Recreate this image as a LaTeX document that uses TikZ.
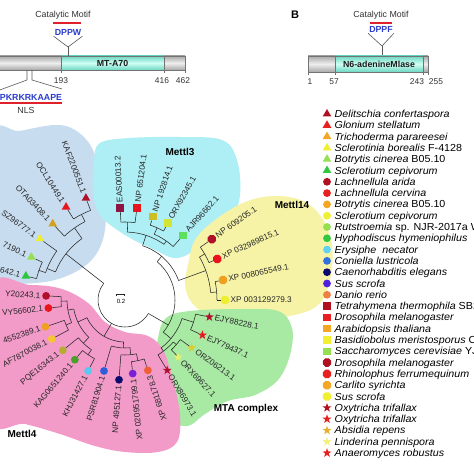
\documentclass[tikz,border=0pt]{standalone}
\usepackage{fontspec}
\setmainfont{Liberation Sans}
\newfontfamily\legfont[FakeStretch=1.05]{Liberation Sans}
\usetikzlibrary{shapes.geometric,calc}
% marker colours (tree)
\definecolor{cDR}{HTML}{B0102A}
\definecolor{cR}{HTML}{E8141E}
\definecolor{cO}{HTML}{F0A020}
\definecolor{cOc}{HTML}{D4A020}
\definecolor{cY}{HTML}{EEEE30}
\definecolor{cYO}{HTML}{F5C535}
\definecolor{cLG}{HTML}{96E050}
\definecolor{cOl}{HTML}{B4AE30}
\definecolor{cG}{HTML}{2EC43C}
\definecolor{cKG}{HTML}{4AA02A}
\definecolor{cLB}{HTML}{5CC8F2}
\definecolor{cB}{HTML}{2F5CD8}
\definecolor{cN}{HTML}{0C0C6E}
\definecolor{cV}{HTML}{7A20D8}
\definecolor{cDO}{HTML}{F06038}
\definecolor{cMar}{HTML}{8E1444}
\definecolor{cSqO}{HTML}{CDBE24}
\definecolor{cSqY}{HTML}{D2E436}
\definecolor{cSqG}{HTML}{5EE05E}
\definecolor{cGold}{HTML}{D8D030}
\definecolor{cLY}{HTML}{E8F070}
% legend colours
\definecolor{lDR}{HTML}{B01020}
\definecolor{lR}{HTML}{E82020}
\definecolor{lO}{HTML}{F5A623}
\definecolor{lY}{HTML}{F0F030}
\definecolor{lLG}{HTML}{94E050}
\definecolor{lG}{HTML}{30C840}
\definecolor{lLB}{HTML}{60D0F5}
\definecolor{lB}{HTML}{3070E0}
\definecolor{lN}{HTML}{0A0A70}
\definecolor{lV}{HTML}{5020E0}
\definecolor{lDO}{HTML}{F08040}
\definecolor{lGold}{HTML}{E8B030}
\definecolor{lLY}{HTML}{F5F080}
% blobs
\definecolor{bBlue}{HTML}{C7DCEF}
\definecolor{bCyan}{HTML}{AEEEF5}
\definecolor{bYel}{HTML}{F6F3A6}
\definecolor{bGrn}{HTML}{A8E9A4}
\definecolor{bPink}{HTML}{F29AC8}
% panels
\definecolor{barout}{HTML}{A8A8A8}
\definecolor{barin}{HTML}{EEEEEE}
\definecolor{domout}{HTML}{6CD6C2}
\definecolor{domin}{HTML}{CFFFF4}
\definecolor{motifblue}{HTML}{2A3CCC}
\definecolor{motifred}{HTML}{E0202A}

\tikzset{
  br/.style={draw=black!85, line width=0.55pt},
  tri/.style={regular polygon, regular polygon sides=3, minimum size=10pt, inner sep=0pt, fill=#1, draw=none},
  sq/.style={rectangle, minimum size=7.5pt, inner sep=0pt, fill=#1},
  circ/.style={circle, minimum size=7.8pt, inner sep=0pt, fill=#1},
  oct/.style={regular polygon, regular polygon sides=8, minimum size=9pt, inner sep=0pt, fill=#1},
  str/.style={star, star points=5, star point ratio=2.5, minimum size=9.5pt, inner sep=0pt, fill=#1},
  lbl/.style={font=\fontsize{8.2}{9}\selectfont, inner sep=0pt, text=black!85},
  grp/.style={font=\fontsize{10}{12}\selectfont\bfseries, inner sep=0pt},
  ptxt/.style={font=\fontsize{8.8}{10}\selectfont, inner sep=0.5pt, text=black!80},
  dtxt/.style={font=\fontsize{8.8}{10}\selectfont\bfseries, inner sep=0pt, text=black!90},
  motif/.style={font=\fontsize{8.8}{10}\selectfont\bfseries, text=motifblue, inner sep=1pt},
  num/.style={font=\fontsize{8.4}{10}\selectfont, inner sep=0pt, text=black!80},
  conn/.style={draw=black!65, line width=0.6pt},
  redbar/.style={draw=motifred, line width=1.8pt},
  legtxt/.style={font=\legfont\fontsize{10.2}{11}\selectfont\itshape, inner sep=0pt},
  barfill/.style={top color=barout, bottom color=barout, middle color=barin},
  domfill/.style={top color=domout, bottom color=domout, middle color=domin},
  outl/.style={draw=black!55, line width=0.5pt},
}

\newcommand{\lfR}[6]{%
  \node[#4=#5] (#1) at ($(C)+(#2:#3)$) {};
  \pgfmathsetmacro{\lfrad}{#3+5.5}%
  \node[lbl, anchor=west, rotate=#2] (#1t) at ($(C)+(#2:\lfrad)$) {#6};%
}
\newcommand{\lfL}[6]{%
  \node[#4=#5] (#1) at ($(C)+(#2:#3)$) {};
  \pgfmathsetmacro{\lfrad}{#3+5.5}%
  \pgfmathsetmacro{\lfrot}{#2+180}%
  \node[lbl, anchor=east, rotate=\lfrot] (#1t) at ($(C)+(#2:\lfrad)$) {#6};%
}
\newcommand{\radl}[3]{\draw[br] ($(C)+(#1:#2)$) -- ($(C)+(#1:#3)$);}
\newcommand{\arcl}[3]{\draw[br] ($(C)+(#1:#3)$) arc[start angle=#1, end angle=#2, radius=#3];}
\newcommand{\tol}[3]{\draw[br] ($(C)+(#1:#2)$) -- (#3);}
\newcommand{\legi}[4]{%
  \pgfmathsetmacro{\legy}{114+11.3*(#1-1)}%
  \pgfmathsetmacro{\legb}{114+11.3*(#1-1)+3.6}%
  \node[#2=#3] (lm#1) at (327,\legy) {};
  \node[legtxt, anchor=base west] (lt#1) at (334.5,\legb) {#4};%
}

\begin{document}
\begin{tikzpicture}[x=1pt,y=1pt]
\useasboundingbox (0,0) rectangle (474,474);
\fill[white] (0,0) rectangle (474,474);

\begin{scope}[shift={(0,474)}, yscale=-1]
% ---------- clade backgrounds ----------
\fill[bBlue] plot[smooth cycle, tension=0.6] coordinates {(-10,138) (20,131) (55,125) (75,130) (92,148) (101,180) (106,215) (101,245) (85,266) (55,280) (20,284) (-10,284)};
\fill[bCyan] plot[smooth cycle, tension=0.6] coordinates {(94,160) (100,143) (130,138) (180,137) (222,140) (237,160) (240,195) (230,222) (205,243) (178,258) (155,250) (125,235) (100,215) (93,190)};
\fill[bYel] plot[smooth cycle, tension=0.6] coordinates {(188,265) (195,240) (215,220) (245,202) (275,196) (303,201) (322,218) (332,245) (330,280) (318,305) (290,316) (250,319) (212,316) (192,303) (185,285)};
\fill[bGrn] plot[smooth cycle, tension=0.6] coordinates {(158,338) (166,318) (190,311) (240,309) (278,311) (292,328) (290,355) (278,380) (255,395) (228,401) (205,414) (188,426) (170,420) (158,400) (155,370)};
\fill[bPink] plot[smooth cycle, tension=0.6] coordinates {(-10,288) (30,285) (62,289) (88,303) (105,322) (125,332) (148,336) (163,350) (173,380) (180,415) (177,442) (158,452) (125,452) (95,446) (60,434) (25,424) (-10,418)};

% ---------- panel A ----------
\shade[barfill] (-10,56) rectangle (185,70);
\shade[domfill] (61,56) rectangle (164,70);
\draw[outl] (-10,56) rectangle (185,70);
\draw[outl] (61,56) -- (61,73);
\draw[outl] (164,56) -- (164,73);
\draw[outl] (185,70) -- (185,73);
\node[dtxt] (mta70) at (112.5,63.5) {MT-A70};
\node[num] (nA1) at (61,81) {193};
\node[num] (nA2) at (162,81) {416};
\node[num] (nA3) at (183,81) {462};
\node[ptxt] (catA) at (63,15) {Catalytic Motif};
\draw[redbar] (53,23) -- (81,23);
\node[motif] (dppw) at (68,32) {DPPW};
\coordinate (vA) at (68,47);
\coordinate (bA) at (68,56);
\draw[conn] (dppw.south west) -- (vA) -- (dppw.south east);
\draw[conn] (vA) -- (bA);
\coordinate (nl1) at (27,70);
\coordinate (nl2) at (32,70);
\coordinate (nl1b) at (27,80);
\coordinate (nl2b) at (32,80);
\coordinate (nlL) at (-3,91);
\coordinate (nlR) at (62,89);
\draw[conn] (nl1) -- (nl1b) -- (nlL);
\draw[conn] (nl2) -- (nl2b) -- (nlR);
\node[motif] (pk) at (31,97) {PKRKRKAAPE};
\draw[redbar] (-2,103) -- (62,103);
\node[ptxt] (nls) at (26,110) {NLS};

% ---------- panel B ----------
\node[font=\fontsize{11}{12}\selectfont\bfseries, inner sep=0pt] (labB) at (295,15) {B};
\node[ptxt] (catB) at (381,15) {Catalytic Motif};
\draw[redbar] (370,23) -- (392,23);
\node[motif] (dppf) at (381,29) {DPPF};
\coordinate (vB) at (382,46);
\coordinate (bB) at (382,56);
\draw[conn] (dppf.south west) -- (vB) -- (dppf.south east);
\draw[conn] (vB) -- (bB);
\shade[barfill] (308,56) rectangle (428,72);
\shade[domfill] (335,56) rectangle (423,72);
\draw[outl] (308,56) rectangle (428,72);
\draw[outl] (335,56) -- (335,75);
\draw[outl] (423,56) -- (423,75);
\draw[outl] (308,72) -- (308,75);
\draw[outl] (428,72) -- (428,75);
\node[dtxt] (n6) at (379,64.5) {N6-adenineMlase};
\node[num] (nB1) at (310,82) {1};
\node[num] (nB2) at (334,82) {57};
\node[num] (nB3) at (417,82) {243};
\node[num] (nB4) at (436,82) {255};

% ---------- legend ----------
\legi{1}{tri}{lDR}{Delitschia confertaspora}
\legi{2}{tri}{lR}{Glonium stellatum}
\legi{3}{tri}{lO}{Trichoderma parareesei}
\legi{4}{tri}{lY}{Sclerotinia borealis {\upshape F-4128}}
\legi{5}{tri}{lLG}{Botrytis cinerea {\upshape B05.10}}
\legi{6}{tri}{lG}{Sclerotium cepivorum}
\legi{7}{circ}{lDR}{Lachnellula arida}
\legi{8}{circ}{lR}{Lachnellula cervina}
\legi{9}{circ}{lO}{Botrytis cinerea {\upshape B05.10}}
\legi{10}{circ}{lY}{Sclerotium cepivorum}
\legi{11}{circ}{lLG}{Rutstroemia {\upshape sp. NJR-2017a W}}
\legi{12}{circ}{lG}{Hyphodiscus hymeniophilus}
\legi{13}{circ}{lLB}{Erysiphe~ necator}
\legi{14}{circ}{lB}{Coniella lustricola}
\legi{15}{circ}{lN}{Caenorhabditis elegans}
\legi{16}{circ}{lV}{Sus scrofa}
\legi{17}{circ}{lDO}{Danio rerio}
\legi{18}{sq}{lDR}{Tetrahymena thermophila {\upshape SB2}}
\legi{19}{sq}{lR}{Drosophila melanogaster}
\legi{20}{sq}{lO}{Arabidopsis thaliana}
\legi{21}{sq}{lY}{Basidiobolus meristosporus {\upshape C}}
\legi{22}{sq}{lLG}{Saccharomyces cerevisiae {\upshape YJ}}
\legi{23}{oct}{lDR}{Drosophila melanogaster}
\legi{24}{oct}{lR}{Rhinolophus ferrumequinum}
\legi{25}{oct}{lO}{Carlito syrichta}
\legi{26}{oct}{lY}{Sus scrofa}
\legi{27}{str}{lDR}{Oxytricha trifallax}
\legi{28}{str}{lR}{Oxytricha trifallax}
\legi{29}{str}{lGold}{Absidia repens}
\legi{30}{str}{lLY}{Linderina pennispora}
\legi{31}{str}{lR}{Anaeromyces robustus}

% ---------- group labels ----------
\node[grp] (gM3) at (180,152) {Mettl3};
\node[grp] (gM14) at (292,205) {Mettl14};
\node[grp] (gMTA) at (246,409) {MTA complex};
\node[grp] (gM4) at (22,434) {Mettl4};

% ---------- scale bar ----------
\coordinate (sb1) at (116,294);
\coordinate (sb2) at (124,294);
\draw[br, line width=0.45pt] (116,296.5) -- (sb1) -- (sb2) -- (124,296.5);
\node[font=\fontsize{6}{7}\selectfont, inner sep=0pt] (sbl) at (121,301) {0.2};
\end{scope}

% ---------- tree ----------
\coordinate (C) at (125,174);
% clade 1 (triangles)
\lfL{kaf}{111}{109}{tri}{cDR}{KAF2200551.1}
\lfL{ocl}{122.4}{110}{tri}{cR}{OCL10449.1}
\lfL{ota}{133.5}{105}{tri}{cOc}{OTA03408.1}
\lfL{psz}{144.3}{105}{tri}{cY}{SZ96777.1}
\lfL{s7190}{155.4}{103}{tri}{cLG}{7190.1}
\lfL{s642}{166.4}{102}{tri}{cG}{642.1}
% Mettl3 (squares)
\lfR{eas}{93}{92}{sq}{cMar}{EAS00013.2}
\lfR{np651}{82.6}{93}{sq}{cR}{NP 651204.1}
\lfR{np192}{71.4}{88}{sq}{cSqO}{NP 192814.1}
\lfR{orx92}{60.8}{88}{sq}{cSqY}{ORX92345.1}
\lfR{ajr}{48}{87}{sq}{cSqG}{AJR96662.1}
% Mettl14 (octagons)
\lfR{np609}{35}{106}{oct}{cDR}{NP 609205.1}
\lfR{xp0329}{24}{101}{oct}{cR}{XP 032989815.1}
\lfR{xp0080}{11.5}{100}{oct}{cO}{XP 008065549.1}
\lfR{xp0031}{0}{100}{oct}{cY}{XP 003129279.3}
% MTA complex (stars)
\lfR{ejy88}{-11.4}{86}{str}{cDR}{EJY88228.1}
\lfR{ejy79}{-24.4}{85}{str}{cR}{EJY79437.1}
\lfR{orz}{-35.6}{82}{str}{cGold}{ORZ06213.1}
\lfR{orx69}{-47}{78}{str}{cLY}{ORX69627.1}
\lfR{orx86}{-59}{82}{str}{cDR}{ORX86973.1}
% Mettl4 (circles)
\lfL{y202}{177}{79}{circ}{cDR}{Y20243.1}
\lfL{vy566}{186}{77}{circ}{cR}{VY56602.1}
\lfL{a455}{198.6}{84}{circ}{cO}{4552389.1}
\lfL{af787}{208}{83}{circ}{cYO}{AF7870038.1}
\lfL{pqe}{219}{80}{circ}{cOl}{PQE16343.1}
\lfL{kag}{230}{78}{circ}{cKG}{KAG0651240.1}
\lfL{khj}{242.5}{80}{circ}{cLB}{KHJ31427.1}
\lfL{psr}{253.5}{74}{circ}{cB}{PSR81904.1}
\lfL{np495}{265.7}{80}{circ}{cN}{NP 495127.1}
\lfL{xp0209}{276}{74}{circ}{cV}{XP 020951799.1}
\lfL{xp681}{288}{74}{circ}{cDO}{XP 681178.3}

% backbone
\arcl{142}{330}{27}
\radl{142}{27}{75}
\radl{240}{27}{42}
\radl{330}{27}{50}
\arcl{-40}{50}{50}
\radl{-40}{50}{60}
\radl{50}{50}{57}
\arcl{20}{72}{57}
\radl{20}{57}{86}
\radl{72}{57}{68}
% clade 1
\arcl{125}{158}{75}
\radl{125}{75}{88}
\arcl{117}{133.5}{88}
\radl{117}{88}{96}
\arcl{111}{122.4}{96}
\tol{111}{96}{kaf}
\tol{122.4}{96}{ocl}
\tol{133.5}{88}{ota}
\radl{158}{75}{84}
\arcl{144.3}{161}{84}
\tol{144.3}{84}{psz}
\radl{161}{84}{91}
\arcl{155.4}{166.4}{91}
\tol{155.4}{91}{s7190}
\tol{166.4}{91}{s642}
% Mettl3
\arcl{55}{88}{68}
\radl{88}{68}{78}
\arcl{82.6}{93}{78}
\tol{93}{78}{eas}
\tol{82.6}{78}{np651}
\radl{55}{68}{72}
\arcl{48}{66}{72}
\tol{48}{72}{ajr}
\radl{66}{72}{79}
\arcl{60.8}{71.4}{79}
\tol{71.4}{79}{np192}
\tol{60.8}{79}{orx92}
% Mettl14
\arcl{5}{30}{86}
\radl{30}{86}{92}
\arcl{24}{35}{92}
\tol{35}{92}{np609}
\tol{24}{92}{xp0329}
\radl{5}{86}{92}
\arcl{0}{11.5}{92}
\tol{11.5}{92}{xp0080}
\tol{0}{92}{xp0031}
% MTA
\arcl{-53}{-18}{60}
\radl{-18}{60}{72}
\arcl{-24.4}{-11.4}{72}
\tol{-11.4}{72}{ejy88}
\tol{-24.4}{72}{ejy79}
\radl{-53}{60}{64}
\arcl{-59}{-41}{64}
\tol{-59}{64}{orx86}
\radl{-41}{64}{68}
\arcl{-47}{-35.6}{68}
\tol{-35.6}{68}{orz}
\tol{-47}{68}{orx69}
% Mettl4
\arcl{205}{268}{42}
\radl{205}{42}{52}
\arcl{190}{226}{52}
\radl{190}{52}{58}
\arcl{181}{203}{58}
\radl{181}{58}{64}
\arcl{177}{186}{64}
\tol{177}{64}{y202}
\tol{186}{64}{vy566}
\radl{203}{58}{64}
\arcl{198.6}{208}{64}
\tol{198.6}{64}{a455}
\tol{208}{64}{af787}
\radl{226}{52}{60}
\arcl{219}{236}{60}
\tol{219}{60}{pqe}
\radl{236}{60}{66}
\arcl{230}{242.5}{66}
\tol{230}{66}{kag}
\tol{242.5}{66}{khj}
\radl{268}{42}{48}
\arcl{253.5}{276}{48}
\tol{253.5}{48}{psr}
\radl{276}{48}{55}
\arcl{265.7}{282}{55}
\tol{265.7}{55}{np495}
\radl{282}{55}{62}
\arcl{276}{288}{62}
\tol{276}{62}{xp0209}
\tol{288}{62}{xp681}
\end{tikzpicture}
\end{document}
